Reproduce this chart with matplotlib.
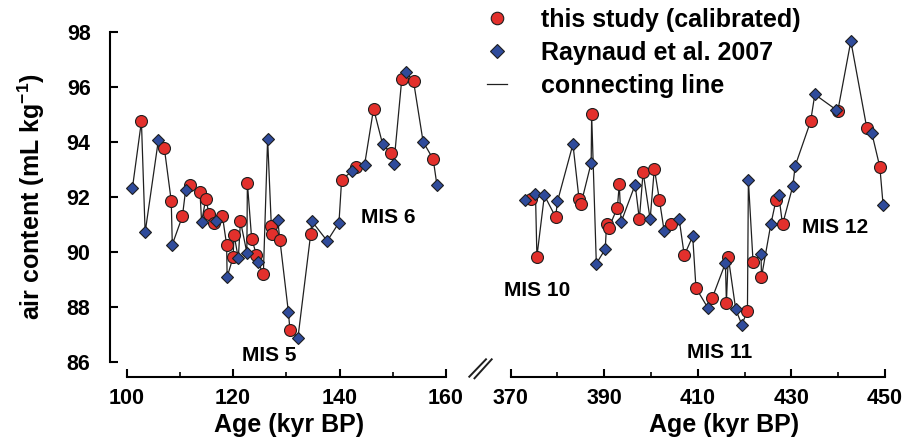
import numpy as np
import matplotlib
matplotlib.use('Agg')
import matplotlib.pyplot as plt
from matplotlib.lines import Line2D

plt.rcParams['font.family'] = ['Liberation Sans', 'DejaVu Sans']
plt.rcParams['font.weight'] = 'bold'
plt.rcParams['mathtext.fontset'] = 'custom'
plt.rcParams['mathtext.rm'] = 'Liberation Sans:bold'
plt.rcParams['mathtext.bf'] = 'Liberation Sans:bold'
plt.rcParams['mathtext.default'] = 'rm'

# this study (calibrated), MIS 5/6 section
study_age_left = [102.8, 107.1, 108.4, 110.5, 111.9, 113.8, 114.9, 115.5, 116.4, 118.0,
                  118.8, 120.0, 120.2, 121.4, 122.7, 123.5, 124.4, 125.7, 127.2, 127.3,
                  128.8, 130.7, 134.6, 140.4, 143.1, 146.4, 149.7, 151.7, 153.9, 157.6]
study_val_left = [94.75, 93.78, 91.86, 91.30, 92.45, 92.18, 91.94, 91.37, 91.06, 91.32,
                  90.27, 89.80, 90.62, 91.12, 92.51, 90.49, 89.90, 89.19, 90.93, 90.64,
                  90.45, 87.15, 90.67, 92.63, 93.09, 95.21, 93.59, 96.30, 96.21, 93.37]

# Raynaud et al. 2007, MIS 5/6 section
ray_age_left = [101.1, 103.5, 106.0, 108.6, 111.1, 114.1, 116.8, 118.9, 121.0, 122.6,
                124.7, 126.5, 128.4, 130.4, 132.2, 134.8, 137.7, 139.9, 142.3, 144.7,
                148.1, 150.2, 152.4, 155.7, 158.3]
ray_val_left = [92.31, 90.71, 94.09, 90.27, 92.25, 91.10, 91.13, 89.09, 89.77, 89.98,
                89.64, 94.12, 91.16, 87.82, 86.89, 91.12, 90.40, 91.07, 92.93, 93.16,
                93.92, 93.19, 96.55, 94.01, 92.43]

# this study (calibrated), MIS 10-12 section
study_age_right = [374.3, 375.6, 379.6, 384.6, 385.0, 387.3, 390.5, 391.0, 392.8, 393.2,
                   397.5, 398.3, 400.7, 401.8, 404.3, 407.1, 409.6, 413.1, 416.1, 416.5,
                   420.6, 421.8, 423.6, 426.7, 428.1, 434.1, 439.9, 446.1, 448.9]
study_val_right = [91.92, 89.83, 91.27, 91.94, 91.73, 95.01, 91.03, 90.89, 91.61, 92.46,
                   91.19, 92.91, 93.03, 91.88, 91.01, 89.88, 88.69, 88.34, 88.15, 89.82,
                   87.86, 89.64, 89.09, 91.88, 91.00, 94.75, 95.12, 94.52, 93.09]

# Raynaud et al. 2007, MIS 10-12 section
ray_age_right = [373.1, 375.3, 377.2, 380.0, 383.3, 387.2, 388.3, 390.2, 393.6, 396.6,
                 399.8, 402.8, 406.0, 408.9, 412.1, 415.9, 418.1, 419.4, 420.8, 423.5,
                 425.6, 427.3, 430.3, 430.8, 435.0, 439.5, 442.7, 447.2, 449.6]
ray_val_right = [91.88, 92.10, 92.06, 91.84, 93.92, 93.24, 89.58, 90.10, 91.09, 92.45,
                 91.19, 90.76, 91.20, 90.57, 87.98, 89.60, 87.91, 87.36, 92.61, 89.91,
                 91.01, 92.06, 92.40, 93.13, 95.73, 95.18, 97.67, 94.31, 91.70]

y_ticks = [86, 88, 90, 92, 94, 96, 98]
left_ticks = [100, 120, 140, 160]
right_ticks = [370, 390, 410, 430, 450]

RED = '#e3302c'
BLUE = '#2f4b9b'
EDGE = '#1e1e1e'
W, H = 907, 441

fig = plt.figure(figsize=(W / 100, H / 100), dpi=100)
ax1 = fig.add_axes([110 / W, 1 - 362 / H, 336 / W, 330 / H])
ax2 = fig.add_axes([510.7 / W, 1 - 362 / H, 374.3 / W, 330 / H])


def draw_panel(ax, s_age, s_val, r_age, r_val):
    ages = np.concatenate([s_age, r_age])
    vals = np.concatenate([s_val, r_val])
    order = np.argsort(ages, kind='stable')
    ax.plot(ages[order], vals[order], color='#202020', lw=0.9, zorder=1, clip_on=False)
    ax.plot(s_age, s_val, 'o', ms=8.6, mfc=RED, mec=EDGE, mew=0.8, zorder=2, clip_on=False)
    ax.plot(r_age, r_val, 'D', ms=6.6, mfc=BLUE, mec=EDGE, mew=0.8, zorder=3, clip_on=False)
    ax.set_ylim(86, 98)
    for side in ['top', 'right']:
        ax.spines[side].set_visible(False)
    ax.spines['bottom'].set_position(('outward', 10.8))
    ax.spines['bottom'].set_linewidth(1.5)
    ax.spines['left'].set_linewidth(1.5)
    ax.tick_params(axis='x', which='major', direction='in', length=6, width=1.5,
                   labelsize=15.5, pad=8)
    ax.tick_params(axis='x', which='minor', direction='in', length=3.5, width=1.2)
    ax.tick_params(axis='y', direction='in', length=6, width=1.5, labelsize=15.5, pad=14)


draw_panel(ax1, study_age_left, study_val_left, ray_age_left, ray_val_left)
draw_panel(ax2, study_age_right, study_val_right, ray_age_right, ray_val_right)

ax1.set_xlim(96.9, 160)
ax1.spines['bottom'].set_bounds(100, 160)
ax1.spines['left'].set_bounds(86, 98)
ax1.set_xticks(left_ticks)
ax1.set_xticks([110, 130, 150], minor=True)
ax1.set_yticks(y_ticks)
ax1.set_ylabel(r'air content (mL kg$^{-1}$)', fontsize=18, fontweight='bold', labelpad=14)
ax1.set_xlabel('Age (kyr BP)', fontsize=18, fontweight='bold')
ax1.xaxis.set_label_coords(0.533, -0.155)

ax2.set_xlim(370, 450)
ax2.spines['left'].set_visible(False)
ax2.set_xticks(right_ticks)
ax2.set_xticks([380, 400, 420, 440], minor=True)
ax2.set_yticks([])
ax2.set_xlabel('Age (kyr BP)', fontsize=18, fontweight='bold')
ax2.xaxis.set_label_coords(0.57, -0.155)

# stage labels
ax1.text(126.9, 86.25, 'MIS 5', fontsize=15, fontweight='bold', ha='center', va='center')
ax1.text(149.1, 91.26, 'MIS 6', fontsize=15, fontweight='bold', ha='center', va='center')
ax2.text(375.6, 88.6, 'MIS 10', fontsize=15, fontweight='bold', ha='center', va='center')
ax2.text(414.7, 86.35, 'MIS 11', fontsize=15, fontweight='bold', ha='center', va='center')
ax2.text(439.3, 90.9, 'MIS 12', fontsize=15, fontweight='bold', ha='center', va='center')

# axis break marks
for x0, y0, x1, y1 in [(469.3, 376.7, 486.0, 359.3), (474.5, 378.3, 491.7, 359.3)]:
    fig.add_artist(Line2D([x0 / W, x1 / W], [1 - y0 / H, 1 - y1 / H],
                          transform=fig.transFigure, color='#1e1e1e', lw=1.4))

handles = [
    Line2D([], [], ls='none', marker='o', ms=9, mfc=RED, mec=EDGE, mew=0.8),
    Line2D([], [], ls='none', marker='D', ms=7, mfc=BLUE, mec=EDGE, mew=0.8),
    Line2D([], [], color='#202020', lw=0.9),
]
labels = ['this study (calibrated)', 'Raynaud et al. 2007', 'connecting line']
fig.legend(handles, labels, loc='upper left', bbox_to_anchor=(487 / W, 1 - 8 / H),
           frameon=False, borderpad=0, borderaxespad=0, handlelength=0.8,
           handletextpad=1.36, labelspacing=0.36,
           prop={'size': 18, 'weight': 'bold'})

fig.savefig('out.png', dpi=100)
